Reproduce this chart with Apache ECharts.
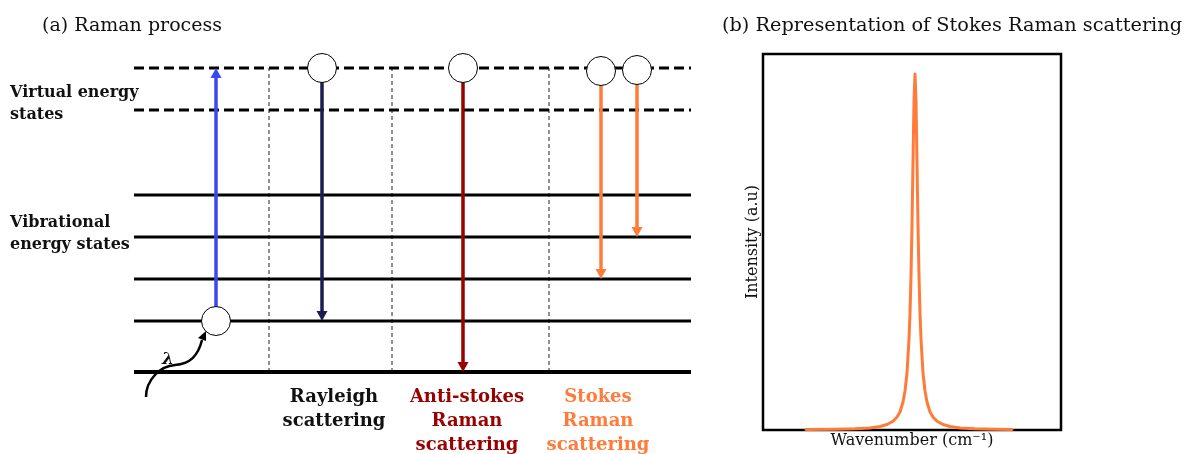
<!DOCTYPE html>
<html><head><meta charset="utf-8">
<script src="https://cdn.jsdelivr.net/npm/echarts@6/dist/echarts.min.js"></script>
<style>html,body{margin:0;padding:0;background:#fff}#c{width:1185px;height:454px}</style>
</head><body><div id="c"></div>
<script>
// ---- Panel (a): energy levels (arbitrary energy units) ----
const vibrationalLevels = [0, 51, 93, 135, 177];
const virtualLevels = [262, 304];
const levelSpan = [0, 557];
const separatorsX = [135, 258, 415];
// transitions: [x position, from level, to level]
const transitions = [[82, 51, 304], [188, 304, 51], [329, 304, 0], [467, 301, 93], [503, 302, 135]];
const molecules = [[82, 51], [188, 304], [329, 304], [467, 301], [503, 302]];
const processLabels = ['Rayleigh\nscattering', 'Anti-stokes\nRaman\nscattering', 'Stokes\nRaman\nscattering'];
const stateLabels = ['Virtual energy\nstates', 'Vibrational\nenergy states'];

// ---- Panel (b): Stokes Raman peak ----
const wavenumber = [43, 72, 92, 107, 117, 124, 130, 134, 137, 140, 142, 144, 146, 147, 148, 149, 150, 151, 152,
  153, 154, 155, 156, 157, 158, 160, 162, 164, 167, 170, 174, 180, 187, 197, 212, 232, 249];
const intensity = [0.4, 0.7, 1.2, 2.1, 3.5, 5.5, 8.8, 13, 18, 28, 39, 57, 91, 117, 154, 205, 268, 329, 356,
  329, 268, 205, 154, 117, 91, 57, 39, 28, 18, 13, 8.8, 5.5, 3.5, 2.1, 1.2, 0.7, 0.5];

const transitionColors = ['#3a48f0', '#1c1c52', '#990000', '#ff7b3a', '#ff7b3a'];
const labelColors = ['#111', '#990000', '#ff7b3a'];
const SERIF = '"DejaVu Serif", serif';

const chart = echarts.init(document.getElementById('c'), null, {renderer: 'canvas'});

const series = [];
vibrationalLevels.forEach((l, i) => series.push({
  type: 'line', xAxisIndex: 0, yAxisIndex: 0, clip: false, silent: true, symbol: 'none',
  data: [[levelSpan[0], l], [levelSpan[1], l]],
  lineStyle: {color: '#000', width: i === 0 ? 4 : 3}, z: 2
}));
virtualLevels.forEach(l => series.push({
  type: 'line', xAxisIndex: 0, yAxisIndex: 0, clip: false, silent: true, symbol: 'none',
  data: [[levelSpan[0], l], [levelSpan[1], l]],
  lineStyle: {color: '#000', width: 3, type: [10, 5]}, z: 2
}));
separatorsX.forEach(x => series.push({
  type: 'line', xAxisIndex: 0, yAxisIndex: 0, clip: false, silent: true, symbol: 'none',
  data: [[x, vibrationalLevels[0]], [x, virtualLevels[1]]],
  lineStyle: {color: '#222', width: 1, type: [4, 3]}, z: 1
}));
series.push({
  type: 'custom', xAxisIndex: 0, yAxisIndex: 0, clip: false, silent: true, z: 3,
  encode: {x: 0, y: [1, 2]},
  data: transitions,
  renderItem(params, api) {
    const x = api.value(0), y1 = api.value(1), y2 = api.value(2);
    const p1 = api.coord([x, y1]), p2 = api.coord([x, y2]);
    const dir = Math.sign(p2[1] - p1[1]);
    const hl = 10, hw = 5.5;
    const color = transitionColors[params.dataIndex];
    return {type: 'group', children: [
      {type: 'line', shape: {x1: p1[0], y1: p1[1], x2: p2[0], y2: p2[1] - dir * (hl - 1)},
        style: {stroke: color, lineWidth: 3.5}},
      {type: 'polygon', shape: {points: [[p2[0], p2[1]], [p2[0] - hw, p2[1] - dir * hl], [p2[0] + hw, p2[1] - dir * hl]]},
        style: {fill: color}}
    ]};
  }
});
series.push({
  type: 'scatter', xAxisIndex: 0, yAxisIndex: 0, clip: false, silent: true, z: 5,
  data: molecules, symbol: 'circle', symbolSize: 29,
  itemStyle: {color: '#fff', borderColor: '#000', borderWidth: 1, opacity: 1}
});
series.push({
  type: 'line', xAxisIndex: 1, yAxisIndex: 1, clip: false, silent: true, symbol: 'none', z: 4,
  data: wavenumber.map((w, i) => [w, intensity[i]]),
  lineStyle: {color: '#ff7b3a', width: 3, join: 'round', cap: 'round'}
});

const graphics = [
  {type: 'text', x: 42, y: 26, style: {text: '(a) Raman process', font: '19px ' + SERIF, fill: '#111', textVerticalAlign: 'middle'}},
  {type: 'text', x: 722, y: 26, style: {text: '(b) Representation of Stokes Raman scattering', font: '19.3px ' + SERIF, fill: '#111', textVerticalAlign: 'middle'}},
  {type: 'text', x: 10, y: 82, style: {text: stateLabels[0], font: 'bold 16px ' + SERIF, fill: '#111', lineHeight: 22}},
  {type: 'text', x: 10, y: 212, style: {text: stateLabels[1], font: 'bold 16px ' + SERIF, fill: '#111', lineHeight: 22}},
  {type: 'bezierCurve', shape: {x1: 146, y1: 397, cpx1: 146, cpy1: 380, cpx2: 160, cpy2: 366, x2: 175, y2: 365},
    style: {stroke: '#000', lineWidth: 2.5, fill: null}},
  {type: 'bezierCurve', shape: {x1: 175, y1: 365, cpx1: 190, cpy1: 364, cpx2: 198, cpy2: 356, x2: 202, y2: 340},
    style: {stroke: '#000', lineWidth: 2.5, fill: null}},
  {type: 'polygon', shape: {points: [[206, 331], [198, 338], [206, 341]]}, style: {fill: '#000'}},
  {type: 'text', x: 168, y: 360, style: {text: 'λ', font: 'italic bold 17px ' + SERIF, fill: '#111', textAlign: 'center', textVerticalAlign: 'middle'}}
];
const labelX = [334, 467, 598];
processLabels.forEach((t, i) => graphics.push({
  type: 'text', x: labelX[i], y: 385,
  style: {text: t, font: 'bold 18px ' + SERIF, fill: labelColors[i], textAlign: 'center', lineHeight: 24}
}));

chart.setOption({
  animation: false,
  backgroundColor: '#fff',
  grid: [
    {left: 134, top: 68, width: 557, height: 304},
    {left: 763, top: 54, width: 298, height: 376, show: true, borderColor: '#000', borderWidth: 2.5, backgroundColor: 'transparent'}
  ],
  xAxis: [
    {gridIndex: 0, type: 'value', min: 0, max: 557, show: false},
    {gridIndex: 1, type: 'value', min: 0, max: 298, axisLine: {show: false}, axisTick: {show: false}, axisLabel: {show: false}, splitLine: {show: false},
      name: 'Wavenumber (cm⁻¹)', nameLocation: 'middle', nameGap: 3,
      nameTextStyle: {fontFamily: SERIF, fontSize: 16, color: '#111'}}
  ],
  yAxis: [
    {gridIndex: 0, type: 'value', min: 0, max: 304, show: false},
    {gridIndex: 1, type: 'value', min: 0, max: 376, axisLine: {show: false}, axisTick: {show: false}, axisLabel: {show: false}, splitLine: {show: false},
      name: 'Intensity (a.u)', nameLocation: 'middle', nameGap: 2,
      nameTextStyle: {fontFamily: SERIF, fontSize: 16, color: '#111'}}
  ],
  graphic: graphics,
  series: series
});
</script></body></html>
